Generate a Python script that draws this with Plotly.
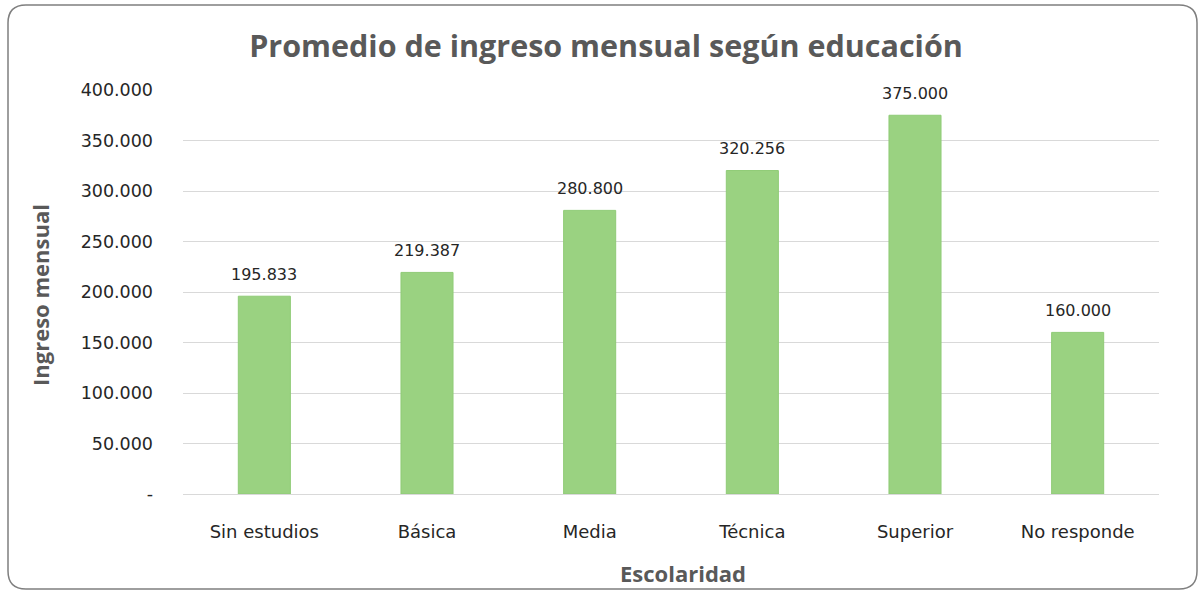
import plotly.graph_objects as go

categories = ["Sin estudios", "Básica", "Media", "Técnica", "Superior", "No responde"]
ingreso = [195833, 219387, 280800, 320256, 375000, 160000]
y_tickvals = [0, 50000, 100000, 150000, 200000, 250000, 300000, 350000, 400000]
y_ticktext = ["-", "50.000", "100.000", "150.000", "200.000", "250.000", "300.000", "350.000", "400.000"]

def fmt(v):
    return f"{v:,}".replace(",", ".")

W, H = 1204, 594
ml, mr, mt, mb = 183, 45, 90, 100
pw, ph = W - ml - mr, H - mt - mb

def px2x(p): return (p - ml) / pw
def py2y(p): return 1 - (p - mt) / ph

fig = go.Figure(go.Bar(
    x=categories, y=ingreso,
    marker=dict(color="#9AD281", line=dict(color="#8FCB76", width=1)),
    width=0.32, cliponaxis=False,
))

x0, x1, y0, y1, r = 8, 1197, 5, 589, 18
path = (f"M {px2x(x0+r)},{py2y(y0)} L {px2x(x1-r)},{py2y(y0)} "
        f"Q {px2x(x1)},{py2y(y0)} {px2x(x1)},{py2y(y0+r)} "
        f"L {px2x(x1)},{py2y(y1-r)} Q {px2x(x1)},{py2y(y1)} {px2x(x1-r)},{py2y(y1)} "
        f"L {px2x(x0+r)},{py2y(y1)} Q {px2x(x0)},{py2y(y1)} {px2x(x0)},{py2y(y1-r)} "
        f"L {px2x(x0)},{py2y(y0+r)} Q {px2x(x0)},{py2y(y0)} {px2x(x0+r)},{py2y(y0)} Z")

title_font = dict(family="Open Sans", size=22, color="#595959")
annotations = [
    dict(text="<b>Ingreso mensual</b>", textangle=-90, xref="paper", yref="paper",
         x=px2x(40), y=py2y(295), xanchor="center", yanchor="middle",
         showarrow=False, font=title_font),
    dict(text="<b>Escolaridad</b>", xref="paper", yref="paper",
         x=px2x(683), y=py2y(573), xanchor="center", yanchor="middle",
         showarrow=False, font=title_font),
]
for c, v in zip(categories, ingreso):
    annotations.append(dict(text=fmt(v), x=c, y=v, xref="x", yref="y",
                            xanchor="center", yanchor="middle", yshift=22,
                            showarrow=False,
                            font=dict(family="DejaVu Sans", size=16, color="#262626")))

fig.update_layout(
    width=W, height=H,
    margin=dict(l=ml, r=mr, t=mt, b=mb, autoexpand=False),
    paper_bgcolor="white", plot_bgcolor="white",
    title=dict(text="<b>Promedio de ingreso mensual según educación</b>",
               x=606 / W, xref="container", xanchor="center", y=1 - 46 / H, yanchor="middle",
               font=dict(family="Open Sans", size=30.5, color="#595959")),
    shapes=[dict(type="path", path=path, xref="paper", yref="paper",
                 line=dict(color="#7F7F7F", width=1.5), layer="below")],
    annotations=annotations,
    showlegend=False,
)
fig.update_yaxes(range=[0, 400000], tickvals=y_tickvals, ticktext=y_ticktext,
                 showgrid=True, gridcolor="#D9D9D9", gridwidth=1, zeroline=False,
                 tickfont=dict(family="DejaVu Sans", size=17.5, color="#262626"),
                 ticks="", ticklabelstandoff=29, automargin=False)
fig.update_xaxes(showline=True, linecolor="#D9D9D9", linewidth=1,
                 tickfont=dict(family="DejaVu Sans", size=18, color="#262626"),
                 ticks="", ticklabelstandoff=21, automargin=False)

fig.write_html("out.html", config={"displayModeBar": False})
with open("out.html", encoding="utf-8") as f:
    html = f.read()
html = html.replace("<head>", "<head><style>html,body{margin:0;padding:0;overflow:hidden}</style>", 1)
with open("out.html", "w", encoding="utf-8") as f:
    f.write(html)
